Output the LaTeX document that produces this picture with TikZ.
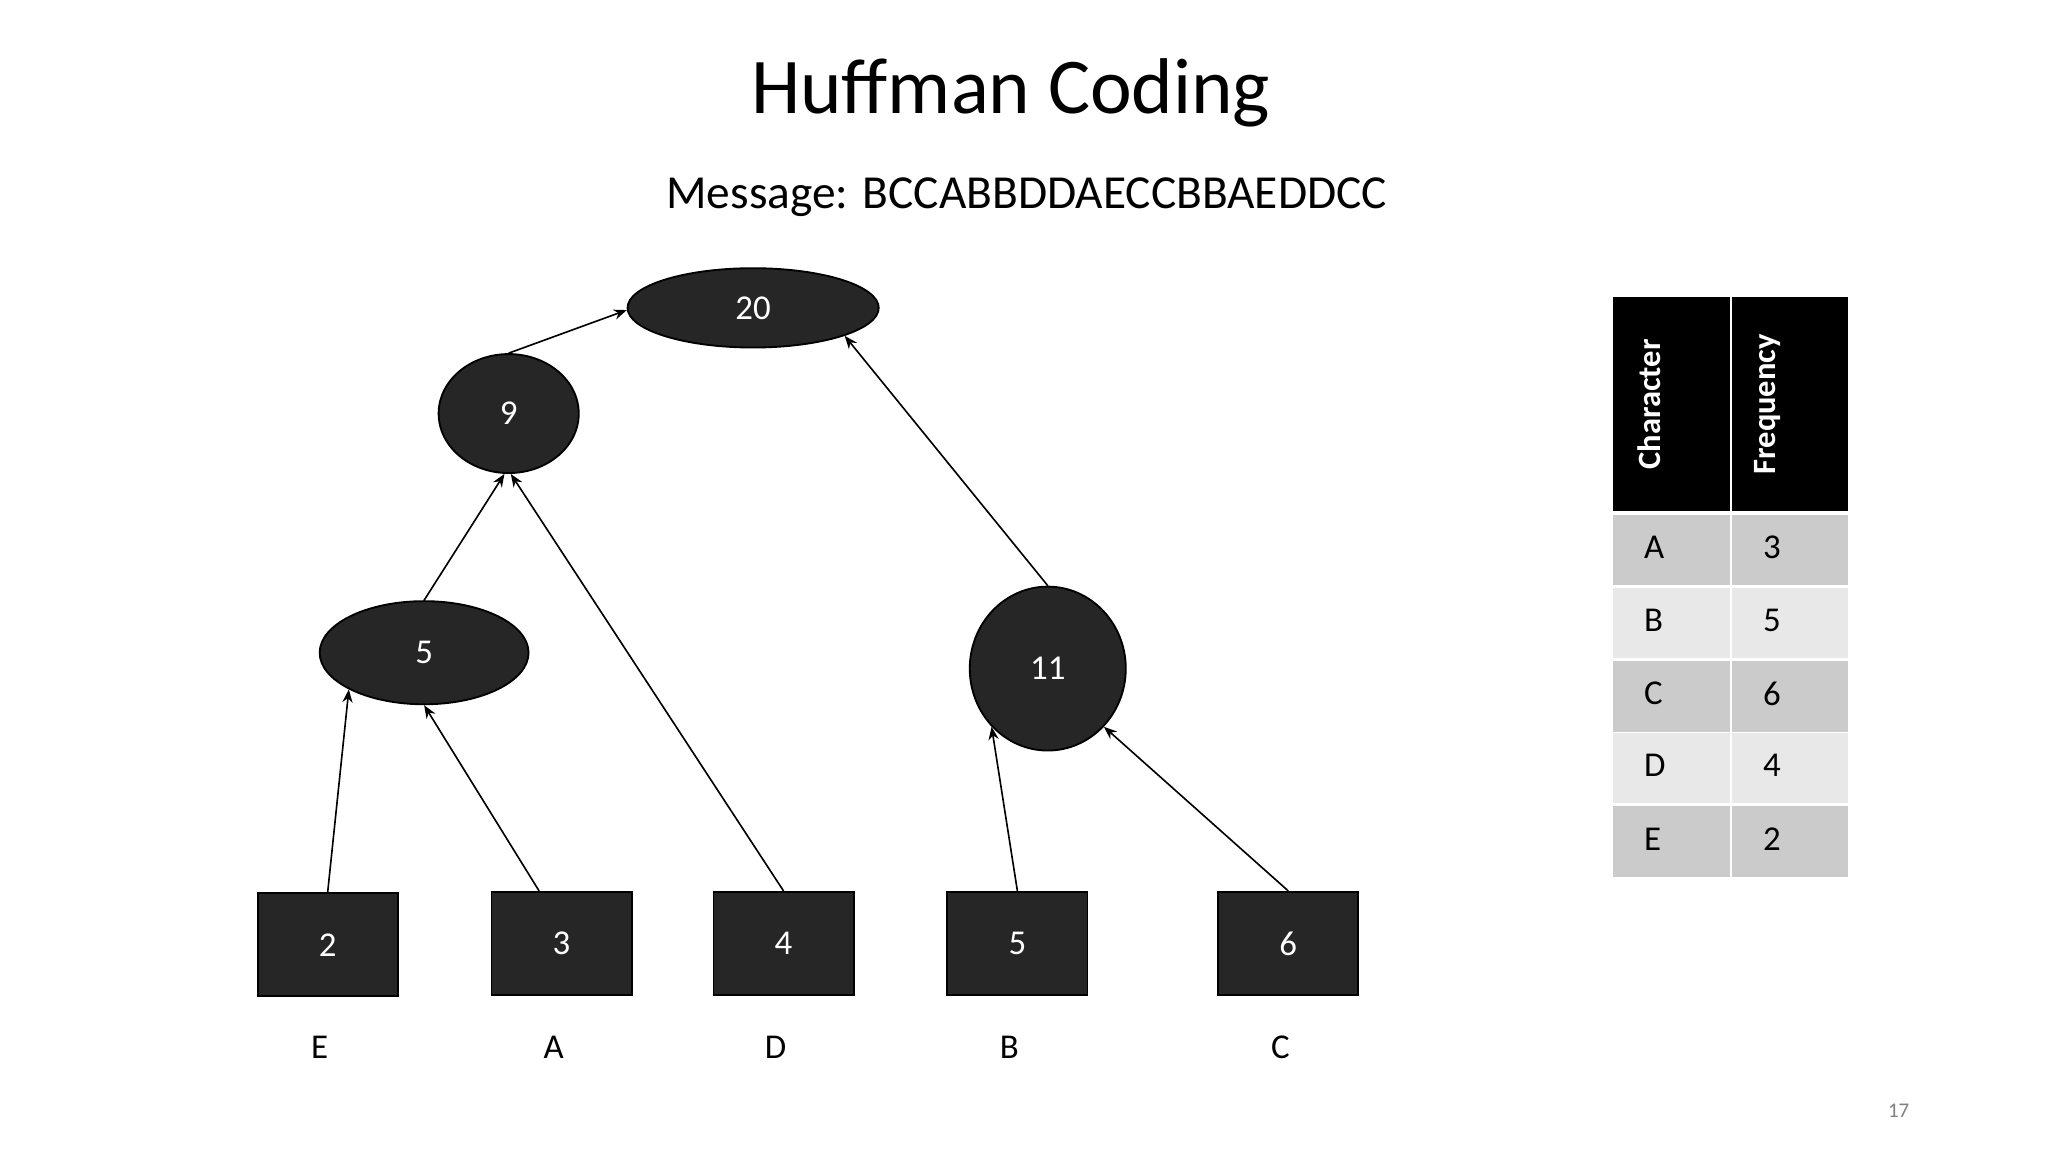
\documentclass[tikz,border=0pt]{standalone}
\usepackage{fontspec}
\setmainfont{Carlito}
\usetikzlibrary{shapes.geometric,arrows.meta}
\definecolor{nodefill}{HTML}{262626}
\definecolor{rowa}{HTML}{CBCBCB}
\definecolor{rowb}{HTML}{E8E8E8}
\begin{document}
\begin{tikzpicture}[x=0.01cm,y=-0.01cm,
  tn/.style={fill=nodefill,draw=black,text=white,inner sep=0,font=\fontsize{7.5}{9}\selectfont},
  el/.style={tn,ellipse},
  bx/.style={tn,rectangle,minimum width=1.06cm,minimum height=0.78cm},
  lab/.style={font=\fontsize{7.5}{9}\selectfont},
  arr/.style={-{Stealth[length=2.8pt,width=2.2pt]},line width=0.35pt},
  cell/.style={rectangle,inner sep=0,minimum width=0.88cm,font=\fontsize{7.5}{9}\selectfont,anchor=north west,text width=0.7cm,align=left}]
\useasboundingbox (0,0) rectangle (1550,872);
\node (title) at (765,70) {\fontsize{17}{20}\selectfont Huffman Coding};
\node (msg) at (777,149) {\fontsize{10.2}{12}\selectfont Message: BCCABBDDAECCBBAEDDCC};
\node[el,minimum width=1.9cm,minimum height=0.6cm] (n20) at (570,233) {20};
\node[el,minimum width=1.06cm,minimum height=0.9cm] (n9) at (385,313) {9};
\node[el,minimum width=1.58cm,minimum height=0.78cm] (n5) at (321,494) {5};
\node[el,minimum width=1.18cm,minimum height=1.24cm] (n11) at (793,506) {11};
\node[bx] (l2) at (248,715) {2};
\node[bx] (l3) at (425,714) {3};
\node[bx] (l4) at (593,714) {4};
\node[bx] (l5) at (770,714) {5};
\node[bx] (l6) at (975,714) {6};
\node[lab] (cE) at (242,793) {E};
\node[lab] (cA) at (419,793) {A};
\node[lab] (cD) at (587,793) {D};
\node[lab] (cB) at (764,793) {B};
\node[lab] (cC) at (969,793) {C};
\draw[arr] (l2.north) -- (n5.206);
\draw[arr] (l3.north -| 408,0) -- (n5.270);
\draw[arr] (l4.north) -- (n9.272);
\draw[arr] (n5.north) -- (n9.266);
\draw[arr] (n9.north) -- (n20.181);
\draw[arr] (n11.north) -- (n20.343);
\draw[arr] (l5.north) -- (n11.226);
\draw[arr] (l6.north) -- (n11.314);
% table
\fill[black] (1221,225) rectangle (1309,387);
\fill[black] (1311,225) rectangle (1399,387);
\node[rotate=90,text=white,font=\bfseries\fontsize{7}{8}\selectfont] (hc) at (1248,306) {Character};
\node[rotate=90,text=white,font=\bfseries\fontsize{7}{8}\selectfont] (hf) at (1338,306) {Frequency};
\foreach \r/\c/\f/\t/\b/\col in {1/A/3/390/443/rowa,2/B/5/445/498/rowb,3/C/6/500/554/rowa,4/D/4/555/608/rowb,5/E/2/610/664/rowa}{
  \fill[\col] (1221,\t) rectangle (1309,\b);
  \fill[\col] (1311,\t) rectangle (1399,\b);
  \node[lab,anchor=west] (c\r) at (1232,{(\t+\b)/2-2}) {\c};
  \node[lab,anchor=west] (f\r) at (1322,{(\t+\b)/2-2}) {\f};
}
\node[text=gray,font=\fontsize{4.5}{5}\selectfont] (pg) at (1437,841) {17};
\end{tikzpicture}
\end{document}
